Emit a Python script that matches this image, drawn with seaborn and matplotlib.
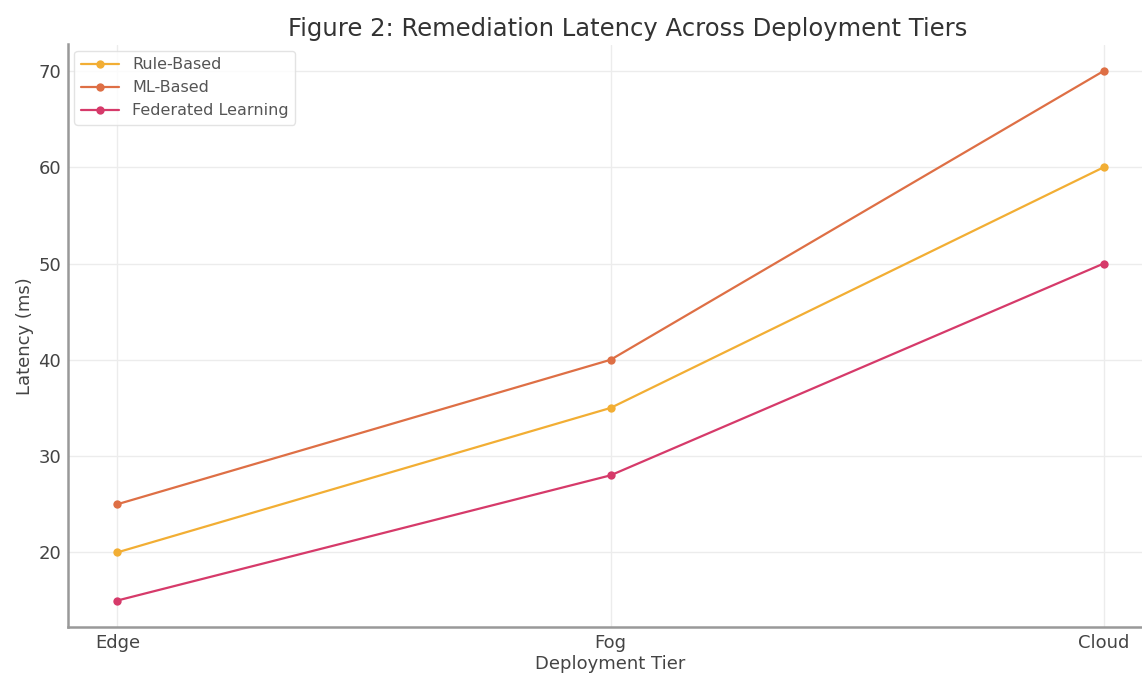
import pandas as pd
import matplotlib
matplotlib.use('Agg')
import matplotlib.pyplot as plt
import seaborn as sns

tiers = ['Edge', 'Fog', 'Cloud']
rule_based = [20, 35, 60]
ml_based = [25, 40, 70]
federated = [15, 28, 50]

methods = ['Rule-Based', 'ML-Based', 'Federated Learning']
colors = ['#f2ae34', '#de6f45', '#d63a6a']

df = pd.DataFrame({
    'Deployment Tier': tiers * 3,
    'Latency (ms)': rule_based + ml_based + federated,
    'Method': [m for m in methods for _ in tiers],
})

sns.set_style('whitegrid')
plt.rcParams['font.family'] = ['DejaVu Sans']

fig = plt.figure(figsize=(11.42, 6.74), dpi=100)
ax = fig.add_axes([68 / 1142, 1 - 627 / 674, 1085 / 1142, (627 - 44.5) / 674])

sns.lineplot(data=df, x='Deployment Tier', y='Latency (ms)', hue='Method',
             palette=colors, marker='o', markersize=6, linewidth=1.6,
             markeredgewidth=0, ax=ax, sort=False)

# title sits a little right of the axes centre in the original
ax.set_title('Figure 2: Remediation Latency Across Deployment Tiers',
             fontsize=17.5, color='#333333', pad=6, x=0.516)
ax.set_xlabel('Deployment Tier', fontsize=13, color='#444444', labelpad=2)
ax.set_ylabel('Latency (ms)', fontsize=13, color='#444444', labelpad=3)
ax.tick_params(labelsize=13, colors='#444444', length=3, pad=2)
ax.grid(color='#ececec', linewidth=1)

sns.despine(ax=ax)
for s in ['left', 'bottom']:
    ax.spines[s].set_color('#999999')
    ax.spines[s].set_linewidth(1.8)

leg = ax.legend(loc='upper left', fontsize=11.5, frameon=True, title=None,
                labelspacing=0.5, handlelength=2.4, borderaxespad=0.4)
leg.get_frame().set_edgecolor('#dddddd')
for t in leg.get_texts():
    t.set_color('#555555')

fig.savefig('out.png', dpi=100)
